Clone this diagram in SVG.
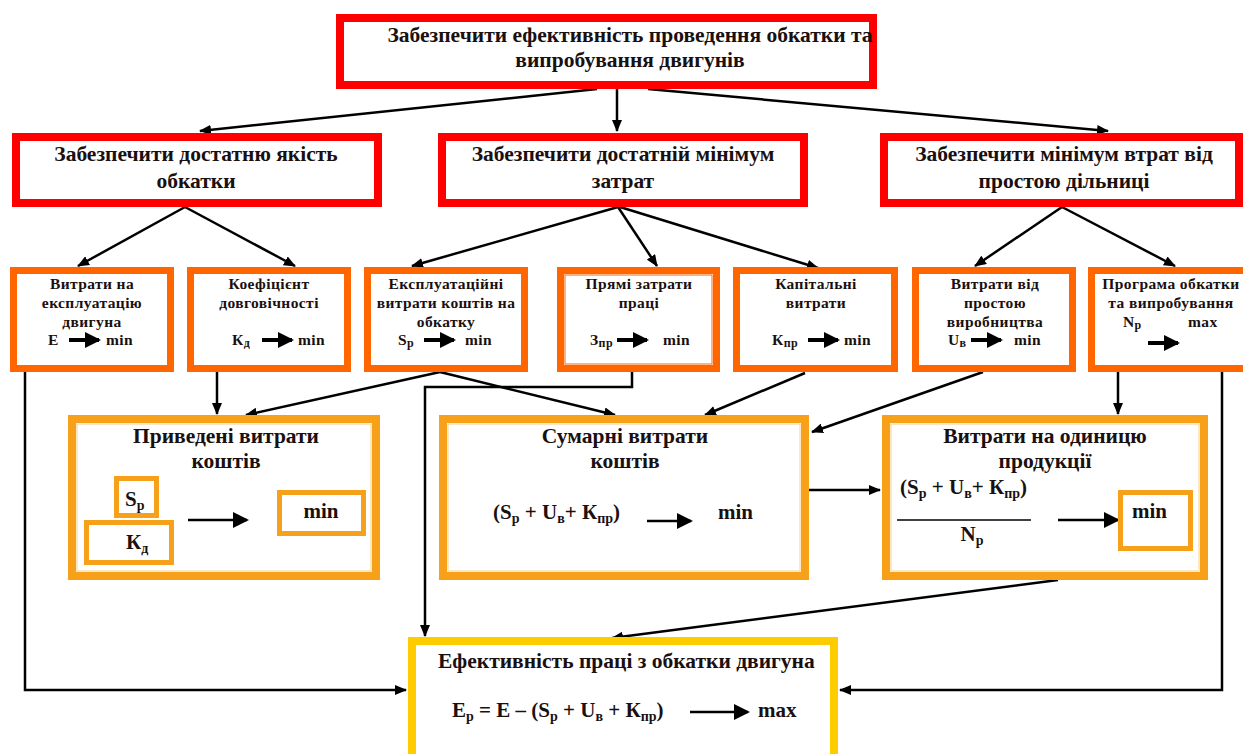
<svg xmlns="http://www.w3.org/2000/svg" width="1243" height="754" viewBox="0 0 1243 754">
<style>
.red{fill:#fff;stroke:#ff0000;stroke-width:8}
.org{fill:#fff;stroke:#ff6600;stroke-width:7}
.amb{fill:#fff;stroke:#f7a11b;stroke-width:8}
.amb2{fill:#fff;stroke:#f7a11b;stroke-width:5}
.yel{fill:#fff;stroke:#ffcc00;stroke-width:8}
.t{font-family:'Liberation Serif','Times New Roman','DejaVu Serif',serif;font-weight:bold;fill:#1a1010}
.c{text-anchor:middle}
.h1{font-size:21.5px}
.h3{font-size:15.5px;letter-spacing:0.4px}
.h4{font-size:21.5px}
.f{font-size:21px}
.s{font-size:14px}
.s3{font-size:12px}
.con{fill:none;stroke:#000;stroke-width:2.5}
.big{fill:none;stroke:#000;stroke-width:4}
</style>
<defs>
<marker id="ah" markerUnits="userSpaceOnUse" markerWidth="12" markerHeight="10" viewBox="0 0 12 10" refX="11" refY="5" orient="auto"><path d="M0,0 L12,5 L0,10 z" fill="#000"/></marker>
<marker id="ah2" markerUnits="userSpaceOnUse" markerWidth="16" markerHeight="16" viewBox="0 0 16 16" refX="14" refY="8" orient="auto"><path d="M0,0 L16,8 L0,16 z" fill="#000"/></marker>
</defs>

<g id="connectors">
<path class="con" d="M597,89 L200,131" marker-end="url(#ah)"/>
<path class="con" d="M617,89 L617,131" marker-end="url(#ah)"/>
<path class="con" d="M648,89 L1108,131" marker-end="url(#ah)"/>
<path class="con" d="M185,207 L78,266" marker-end="url(#ah)"/>
<path class="con" d="M185,207 L295,266" marker-end="url(#ah)"/>
<path class="con" d="M618,207 L412,266" marker-end="url(#ah)"/>
<path class="con" d="M618,207 L657,266" marker-end="url(#ah)"/>
<path class="con" d="M620,207 L818,268" marker-end="url(#ah)"/>
<path class="con" d="M1062,207 L975,266" marker-end="url(#ah)"/>
<path class="con" d="M1062,207 L1175,266" marker-end="url(#ah)"/>
<path class="con" d="M25,372 L25,690 L406,690" marker-end="url(#ah)"/>
<path class="con" d="M1222,372 L1222,690 L840,690" marker-end="url(#ah)"/>
<path class="con" d="M217,372 L217,414" marker-end="url(#ah)"/>
<path class="con" d="M440,372 L246,415" marker-end="url(#ah)"/>
<path class="con" d="M440,372 L615,415" marker-end="url(#ah)"/>
<path class="con" d="M632,372 L632,387 L425,387 L425,636" marker-end="url(#ah)"/>
<path class="con" d="M805,373 L705,415" marker-end="url(#ah)"/>
<path class="con" d="M983,372 L812,432" marker-end="url(#ah)"/>
<path class="con" d="M1118,372 L1118,414" marker-end="url(#ah)"/>
<path class="con" d="M809,490 L880,490" marker-end="url(#ah)"/>
<path class="con" d="M1058,580 L612,638" marker-end="url(#ah)"/>
</g>

<g id="top">
<rect class="red" x="340" y="18" width="533" height="67"/>
<text class="t c h1" x="630" y="42">Забезпечити ефективність проведення обкатки та</text>
<text class="t c h1" x="630" y="67">випробування двигунів</text>
</g>

<g id="goal-quality">
<rect class="red" x="16" y="137" width="362" height="66"/>
<text class="t c h1" x="196" y="161">Забезпечити достатню якість</text>
<text class="t c h1" x="196" y="188">обкатки</text>
</g>
<g id="goal-cost">
<rect class="red" x="442" y="137" width="362" height="66"/>
<text class="t c h1" x="623" y="161">Забезпечити достатній мінімум</text>
<text class="t c h1" x="623" y="188">затрат</text>
</g>
<g id="goal-downtime">
<rect class="red" x="884" y="137" width="355" height="66"/>
<text class="t c h1" x="1064" y="161">Забезпечити мінімум втрат від</text>
<text class="t c h1" x="1064" y="188">простою дільниці</text>
</g>

<g id="b1">
<rect class="org" x="13.5" y="270.5" width="157" height="98"/>
<text class="t c h3" x="92" y="289">Витрати на</text>
<text class="t c h3" x="92" y="308">експлуатацію</text>
<text class="t c h3" x="92" y="327">двигуна</text>
<text class="t h3" x="48" y="345">Е</text>
<path class="big" d="M69,340 L99,340" marker-end="url(#ah2)"/>
<text class="t h3" x="106" y="345">min</text>
</g>
<g id="b2">
<rect class="org" x="190.5" y="270.5" width="157" height="98"/>
<text class="t c h3" x="269" y="289">Коефіцієнт</text>
<text class="t c h3" x="269" y="308">довговічності</text>
<text class="t h3" x="232" y="345">К<tspan class="s3" dy="2">д</tspan></text>
<path class="big" d="M262,340 L292,340" marker-end="url(#ah2)"/>
<text class="t h3" x="298" y="345">min</text>
</g>
<g id="b3">
<rect class="org" x="367.5" y="270.5" width="157" height="98"/>
<text class="t c h3" x="446" y="289">Експлуатаційні</text>
<text class="t c h3" x="446" y="308">витрати коштів на</text>
<text class="t c h3" x="446" y="327">обкатку</text>
<text class="t h3" x="398" y="345">S<tspan class="s3" dy="2">р</tspan></text>
<path class="big" d="M424,340 L454,340" marker-end="url(#ah2)"/>
<text class="t h3" x="465" y="345">min</text>
</g>
<g id="b4">
<rect class="org" x="560.5" y="270.5" width="156" height="98"/>
<rect x="565" y="275" width="147" height="89" fill="none" stroke="#ff6600" stroke-width="1"/>
<text class="t c h3" x="639" y="289">Прямі затрати</text>
<text class="t c h3" x="639" y="308">праці</text>
<text class="t h3" x="590" y="345">З<tspan class="s3" dy="2">пр</tspan></text>
<path class="big" d="M617,340 L647,340" marker-end="url(#ah2)"/>
<text class="t h3" x="663" y="345">min</text>
</g>
<g id="b5">
<rect class="org" x="736.5" y="270.5" width="158" height="98"/>
<text class="t c h3" x="816" y="289">Капітальні</text>
<text class="t c h3" x="816" y="308">витрати</text>
<text class="t h3" x="772" y="345">К<tspan class="s3" dy="2">пр</tspan></text>
<path class="big" d="M808,340 L838,340" marker-end="url(#ah2)"/>
<text class="t h3" x="844" y="345">min</text>
</g>
<g id="b6">
<rect class="org" x="915.5" y="270.5" width="157" height="98"/>
<text class="t c h3" x="995" y="289">Витрати від</text>
<text class="t c h3" x="995" y="308">простою</text>
<text class="t c h3" x="995" y="327">виробництва</text>
<text class="t h3" x="948" y="345">U<tspan class="s3" dy="2">в</tspan></text>
<path class="big" d="M971,340 L1001,340" marker-end="url(#ah2)"/>
<text class="t h3" x="1014" y="345">min</text>
</g>
<g id="b7">
<rect class="org" x="1091.5" y="270.5" width="160" height="98"/>
<text class="t c h3" x="1171" y="289">Програма обкатки</text>
<text class="t c h3" x="1171" y="308">та випробування</text>
<text class="t h3" x="1123" y="327">N<tspan class="s3" dy="2">р</tspan></text>
<text class="t h3" x="1188" y="327">max</text>
<path class="big" d="M1148,343 L1178,343" marker-end="url(#ah2)"/>
</g>

<g id="reduced">
<rect class="amb" x="72" y="419" width="304" height="157"/>
<rect x="77" y="424" width="294" height="147" fill="none" stroke="#fbd08a" stroke-width="1"/>
<text class="t c h4" x="226" y="443">Приведені витрати</text>
<text class="t c h4" x="226" y="468">коштів</text>
<rect class="amb2" x="116.5" y="478.5" width="40" height="37"/>
<text class="t f" x="125" y="506">S<tspan class="s" dy="4">р</tspan></text>
<rect class="amb2" x="86.5" y="522.5" width="85" height="40"/>
<text class="t f" x="126" y="549">К<tspan class="s" dy="4">д</tspan></text>
<path class="con" d="M188,520 L247,520" stroke-width="3" marker-end="url(#ah2)"/>
<rect class="amb2" x="279.5" y="492.5" width="84" height="41"/>
<text class="t c f" x="321" y="518">min</text>
</g>

<g id="total">
<rect class="amb" x="443" y="419" width="362" height="157"/>
<rect x="448" y="424" width="352" height="147" fill="none" stroke="#fbd08a" stroke-width="1"/>
<text class="t c h4" x="625" y="443">Сумарні витрати</text>
<text class="t c h4" x="625" y="468">коштів</text>
<text class="t f" x="493" y="519">(S<tspan class="s" dy="4">р</tspan><tspan dy="-4"> + U</tspan><tspan class="s" dy="4">в</tspan><tspan dy="-4">+ К</tspan><tspan class="s" dy="4">пр</tspan><tspan dy="-4">)</tspan></text>
<path class="con" d="M647,521 L691,521" stroke-width="3.5" marker-end="url(#ah2)"/>
<text class="t f" x="718" y="519">min</text>
</g>

<g id="unit">
<rect class="amb" x="886" y="419" width="318" height="157"/>
<rect x="891" y="424" width="308" height="147" fill="none" stroke="#fbd08a" stroke-width="1"/>
<text class="t c h4" x="1045" y="443">Витрати на одиницю</text>
<text class="t c h4" x="1045" y="468">продукції</text>
<text class="t f" x="900" y="494">(S<tspan class="s" dy="4">р</tspan><tspan dy="-4"> + U</tspan><tspan class="s" dy="4">в</tspan><tspan dy="-4">+ К</tspan><tspan class="s" dy="4">пр</tspan><tspan dy="-4">)</tspan></text>
<line x1="897" y1="520" x2="1031" y2="520" stroke="#000" stroke-width="1.5"/>
<text class="t c f" x="972" y="541">N<tspan class="s" dy="4">р</tspan></text>
<path class="con" d="M1058,520 L1118,520" stroke-width="3.5" marker-end="url(#ah2)"/>
<rect class="amb2" x="1120.5" y="492.5" width="70" height="56"/>
<text class="t f" x="1132" y="518">min</text>
</g>

<g id="efficiency">
<rect class="yel" x="412" y="641" width="422" height="120"/>
<text class="t h1" x="438" y="668">Ефективність праці з обкатки двигуна</text>
<text class="t f" x="452" y="717">Е<tspan class="s" dy="4">р</tspan><tspan dy="-4"> = Е – (S</tspan><tspan class="s" dy="4">р</tspan><tspan dy="-4"> + U</tspan><tspan class="s" dy="4">в</tspan><tspan dy="-4"> + К</tspan><tspan class="s" dy="4">пр</tspan><tspan dy="-4">)</tspan></text>
<path class="con" d="M690,712 L748,712" stroke-width="3.5" marker-end="url(#ah2)"/>
<text class="t f" x="758" y="717">max</text>
</g>
</svg>
